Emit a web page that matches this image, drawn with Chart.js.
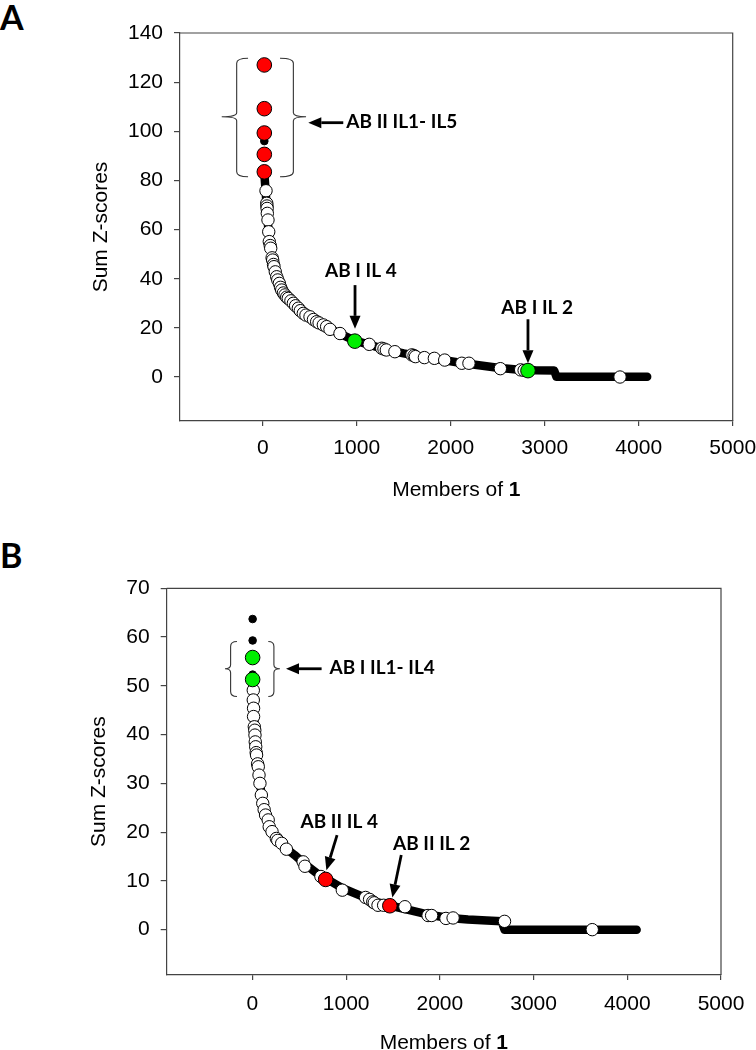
<!DOCTYPE html>
<html>
<head>
<meta charset="utf-8">
<script src="https://cdn.jsdelivr.net/npm/chart.js@4.4.1/dist/chart.umd.min.js"></script>
<style>
  body { margin: 0; background: #fff; width: 756px; height: 1050px; position: relative; overflow: hidden; }
  canvas { position: absolute; left: 0; }
  #chartA { top: 0; }
  #chartB { top: 525px; }
  .tag { position: absolute; left: 0; font: bold 34px Lato, sans-serif; line-height: 34px; color: #000; }
</style>
</head>
<body>
<div class="tag" style="top:0">A</div>
<div class="tag" style="top:538px">B</div>
<canvas id="chartA" width="756" height="525"></canvas>
<canvas id="chartB" width="756" height="525"></canvas>
<script>
// tick labels
const xTicks = [0, 1000, 2000, 3000, 4000, 5000];
const yTicksA = [0, 20, 40, 60, 80, 100, 120, 140];
const yTicksB = [0, 10, 20, 30, 40, 50, 60, 70];

// Panel A - [member rank, sum Z-score]
const bandA = [[17,83],[30,76],[45,68],[60,60],[80,53],[110,46],[150,40.5],[200,35.5],[260,32.3],[330,29.8],
  [420,26.3],[520,23.8],[650,21],[800,18],[980,14.8],[1150,13],[1300,11.2],[1500,9.6],[1700,8.2],[1900,7],
  [2100,5.8],[2300,4.8],[2500,3.8],[2700,3.1],[2900,2.8],[3100,2.7],[3125,0.1],[4090,0.1]];
const whiteA = [[35,75.8],[43,70.7],[45,69.6],[47,68.6],[49,66.6],[56,63.9],[64,59.1],[70,55.1],[80,53.5],[85,52.4],
  [100,48.5],[106,47.6],[115,45.8],[120,44.9],[134,42.8],[149,40.8],[160,39.5],[177,38.1],[190,36.5],[202,35.4],
  [220,34.2],[237,33.4],[255,32.5],[272,32],[300,31],[326,30],[350,29],[379,28],[400,27],[432,25.9],
  [460,25.2],[503,24.5],[540,23.4],[574,22.5],[600,22],[645,21.2],[680,20.5],[716,19.4],[822,17.7],[1133,13.3],
  [1266,11.7],[1290,11.4],[1315,11],[1406,10.3],[1587,9],[1610,8.7],[1625,8.3],[1720,7.9],[1826,7.6],[1936,6.9],
  [2118,5.6],[2194,5.6],[2528,3.4],[2744,2.9],[2781,2.7],[3801,0]];
const blackA = [[17,96]];
const redA = [[17,127],[17,109.2],[17,99.3],[17,90.6],[17,83.5]];
const greenA = [[980,14.6],[2822,2.6]];

// Panel B
const bandB = [[5,50],[10,47],[20,43],[30,40],[45,36],[60,33],[80,30],[100,27.5],[130,25],[170,22],
  [220,19.8],[280,18.2],[350,16.8],[450,15.3],[550,13.6],[700,11.4],[800,10.3],[950,8.6],[1100,7.4],[1300,5.8],
  [1500,4.8],[1700,3.9],[1900,3],[2100,2.4],[2300,2.1],[2500,1.9],[2660,1.7],[2690,0],[4100,0]];
const whiteB = [[9,49.1],[9,47.1],[12,45.4],[12,43.7],[20,41.6],[25,40.9],[27,39.9],[30,38.5],[35,37.5],[40,36.3],
  [44,35.8],[55,34],[62,33.4],[70,31.7],[80,30],[95,27.6],[110,25.9],[125,24.6],[140,23.5],[168,22.5],
  [179,21.1],[209,20.1],[255,18.7],[270,18.3],[312,17.7],[362,16.5],[541,13.9],[560,13],[731,10.9],[959,8.1],
  [1207,6.6],[1250,6.2],[1284,5.7],[1300,5.5],[1340,5],[1400,5],[1627,4.7],[1874,2.9],[1912,2.9],[2065,2.3],
  [2141,2.4],[2690,1.7],[3626,0]];
const blackB = [[2,63.7],[2,59.3],[2,52.3]];
const redB = [[781,10.3],[1466,4.9]];
const greenB = [[2,55.8],[2,51.3]];

// annotation labels
const labelsA = ['AB II IL1- IL5', 'AB I IL 4', 'AB I IL 2'];
const labelsB = ['AB I IL1- IL4', 'AB II IL 4', 'AB II IL 2'];

const axisColor = '#444';
const tickFont = { family: 'Liberation Sans', size: 21 };
const noteFont = 'bold 19px Lato';

function brace(ctx, xv, xs, xt, top, bot, mid) {
  ctx.beginPath();
  ctx.moveTo(xs, top);
  ctx.quadraticCurveTo(xv, top, xv, top + 5);
  ctx.lineTo(xv, mid - 4);
  ctx.quadraticCurveTo(xv, mid, xt, mid);
  ctx.quadraticCurveTo(xv, mid, xv, mid + 4);
  ctx.lineTo(xv, bot - 5);
  ctx.quadraticCurveTo(xv, bot, xs, bot);
  ctx.stroke();
}

function arrow(ctx, x0, y0, x1, y1) {
  const ang = Math.atan2(y1 - y0, x1 - x0), L = 13, W = 5.5;
  const bx = x1 - L * Math.cos(ang), by = y1 - L * Math.sin(ang);
  ctx.lineWidth = 2.8;
  ctx.beginPath(); ctx.moveTo(x0, y0); ctx.lineTo(bx, by); ctx.stroke();
  ctx.beginPath();
  ctx.moveTo(x1, y1);
  ctx.lineTo(bx - W * Math.sin(ang), by + W * Math.cos(ang));
  ctx.lineTo(bx + W * Math.sin(ang), by - W * Math.cos(ang));
  ctx.closePath(); ctx.fill();
}

// frame, braces, arrows, notes and the x title
const panelMarks = {
  id: 'panelMarks',
  afterDraw(chart, args, o) {
    const { ctx, chartArea: a, scales: { x, y } } = chart;
    const px = v => x.getPixelForValue(v), py = v => y.getPixelForValue(v);
    ctx.save();
    ctx.strokeStyle = axisColor; ctx.lineWidth = 1.2;
    ctx.beginPath(); ctx.moveTo(a.left, a.top); ctx.lineTo(a.right, a.top); ctx.lineTo(a.right, a.bottom); ctx.stroke();

    ctx.strokeStyle = '#333'; ctx.lineWidth = 1.1;
    const b = o.brace;
    brace(ctx, px(b.left[0]), px(b.left[1]), px(b.left[2]), py(b.top), py(b.bot), py(b.mid));
    brace(ctx, px(b.right[0]), px(b.right[1]), px(b.right[2]), py(b.top), py(b.bot), py(b.mid));

    ctx.strokeStyle = '#000'; ctx.fillStyle = '#000';
    ctx.textBaseline = 'middle';
    o.notes.forEach(n => {
      arrow(ctx, px(n.from[0]), py(n.from[1]), px(n.to[0]), py(n.to[1]));
      ctx.font = noteFont;
      ctx.textAlign = n.align;
      ctx.fillText(n.text, px(n.at[0]), py(n.at[1]));
    });

    // "Members of 1" with bold 1
    ctx.textBaseline = 'alphabetic'; ctx.textAlign = 'left';
    const reg = '21px "Liberation Sans"', bold = 'bold 21px "Liberation Sans"';
    ctx.font = reg; const w1 = ctx.measureText('Members of ').width;
    ctx.font = bold; const w2 = ctx.measureText('1').width;
    const cx = (a.left + a.right) / 2 - (w1 + w2) / 2;
    ctx.font = reg; ctx.fillText('Members of ', cx, o.titleY);
    ctx.font = bold; ctx.fillText('1', cx + w1, o.titleY);
    ctx.restore();
  }
};

function dots(pts, r, fill, order) {
  return {
    data: pts.map(p => ({ x: p[0], y: p[1] })),
    pointRadius: r, pointHoverRadius: r,
    pointBackgroundColor: fill, pointBorderColor: '#000', pointBorderWidth: 1,
    showLine: false, order: order
  };
}

function band(pts) {
  return {
    data: pts.map(p => ({ x: p[0], y: p[1] })),
    showLine: true, borderColor: '#000', borderWidth: 8.5,
    borderCapStyle: 'round', borderJoinStyle: 'round',
    pointRadius: 0, tension: 0, order: 4
  };
}

function makeChart(id, p) {
  return new Chart(document.getElementById(id), {
    type: 'scatter',
    data: {
      datasets: [
        dots(p.red, 7.3, '#ff0000', 0),
        dots(p.green, 7.3, '#00ee00', 0),
        dots(p.black, 3.8, '#000', 1),
        dots(p.white, 6.2, '#fff', 2),
        band(p.band)
      ]
    },
    options: {
      responsive: false, animation: false, events: [],
      layout: { padding: { top: p.padTop, right: p.padRight, left: 0, bottom: 0 } },
      plugins: {
        legend: { display: false }, tooltip: { enabled: false },
        panelMarks: { brace: p.brace, notes: p.notes, titleY: p.titleY }
      },
      scales: {
        x: {
          type: 'linear', min: p.xMin, max: 5000,
          afterBuildTicks: s => { s.ticks = xTicks.map(v => ({ value: v })); },
          afterFit: s => { s.height = p.xHeight; s.paddingLeft = 0; s.paddingRight = 0; },
          grid: { drawOnChartArea: false, drawTicks: true, tickLength: 5, tickColor: axisColor, lineWidth: 1.2 },
          border: { color: axisColor, width: 1.2 },
          ticks: { padding: p.xPad, color: '#000', font: tickFont, maxRotation: 0, autoSkip: false, callback: v => String(v) }
        },
        y: {
          type: 'linear', min: p.yMin, max: p.yMax,
          afterBuildTicks: s => { s.ticks = p.yTicks.map(v => ({ value: v })); },
          afterFit: s => { s.width = p.yWidth; s.paddingTop = 0; s.paddingBottom = 0; },
          grid: { drawOnChartArea: false, drawTicks: true, tickLength: 6, tickColor: axisColor, lineWidth: 1.2 },
          border: { color: axisColor, width: 1.2 },
          ticks: { padding: 11, color: '#000', font: tickFont, autoSkip: false, callback: v => String(v) },
          title: { display: true, text: 'Sum Z-scores', color: '#000', font: tickFont, padding: { top: p.yTitlePad, bottom: 0 } }
        }
      }
    },
    plugins: [panelMarks]
  });
}

makeChart('chartA', {
  red: redA, green: greenA, black: blackA, white: whiteA, band: bandA,
  xMin: -880, yMin: -17.9, yMax: 140, yTicks: yTicksA,
  yWidth: 180, xHeight: 104, padTop: 33, padRight: 23.3, yTitlePad: 89, titleY: 496, xPad: 10,
  brace: { left: [-277, -156, -436], right: [326, 184, 461], top: 129.7, bot: 81.5, mid: 105.9 },
  notes: [
    { text: labelsA[0], from: [857, 103.5], to: [485, 103.5], at: [890, 104], align: 'left' },
    { text: labelsA[1], from: [982, 37.4], to: [982, 19.6], at: [1044, 43], align: 'center' },
    { text: labelsA[2], from: [2822, 23.5], to: [2822, 5.6], at: [2920, 28.2], align: 'center' }
  ]
});

makeChart('chartB', {
  red: redB, green: greenB, black: blackB, white: whiteB, band: bandB,
  xMin: -915, yMin: -9.3, yMax: 70, yTicks: yTicksB,
  yWidth: 166.7, xHeight: 75, padTop: 63.3, padRight: 35, yTitlePad: 87, titleY: 524, xPad: 12,
  brace: { left: [-233, -165, -293], right: [229, 169, 293], top: 59.1, bot: 47.8, mid: 53.5 },
  notes: [
    { text: labelsB[0], from: [738, 53.5], to: [358, 53.5], at: [822, 53.6], align: 'left' },
    { text: labelsB[1], from: [903, 19.4], to: [789, 12.2], at: [926, 22.2], align: 'center' },
    { text: labelsB[2], from: [1588, 15.3], to: [1493, 6.6], at: [1912, 17.6], align: 'center' }
  ]
});
</script>
</body>
</html>
